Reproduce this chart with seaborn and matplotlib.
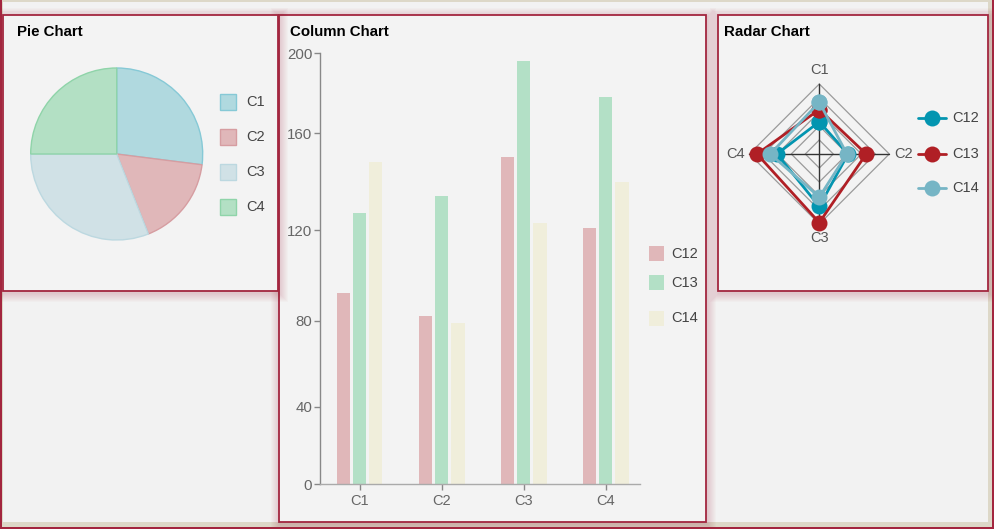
import numpy as np
import pandas as pd
import matplotlib
matplotlib.use("Agg")
import matplotlib.pyplot as plt
import seaborn as sns
from matplotlib.patches import Rectangle
from matplotlib.lines import Line2D

# ---------------- data ----------------
categories = ["C1", "C2", "C3", "C4"]
pie_values = [27, 17, 31, 25]
series_names = ["C12", "C13", "C14"]
c12_values = [92, 82, 150, 121]
c13_values = [127, 134, 196, 178]
c14_values = [148, 79, 123, 140]
y_ticks = [0, 40, 80, 120, 160, 200]

# ---------------- style ----------------
pie_fill = ["#b0d9df", "#e0b7b9", "#d0e1e6", "#b3e0c4"]
pie_edge = ["#86c9d6", "#d69da1", "#bcd8e0", "#8fd4a9"]
bar_colors = ["#e0b7b9", "#b3e0c6", "#f0eedb"]
radar_colors = ["#0395b0", "#b01f25", "#76b5c5"]
frame_red = "#a3263f"
tick_gray = "#666666"
label_gray = "#444444"

W, H = 994, 529
sns.set_theme(style="white")
plt.rcParams["font.family"] = ["Liberation Sans", "DejaVu Sans"]

fig = plt.figure(figsize=(W / 100, H / 100), dpi=100, facecolor="#f2f2f2")


def box(x0, y0, x1, y1):
    return [x0 / W, 1 - y1 / H, (x1 - x0) / W, (y1 - y0) / H]


def rect(x0, y0, x1, y1, **kw):
    r = Rectangle((x0 / W, 1 - y1 / H), (x1 - x0) / W, (y1 - y0) / H,
                  transform=fig.transFigure, **kw)
    fig.add_artist(r)
    return r


def ftext(x, y, s, **kw):
    return fig.text(x / W, 1 - y / H, s, **kw)


# outer frame
rect(0, 0, W, H, facecolor=frame_red, edgecolor="none", zorder=-20)
rect(1.5, 0, 992, 527, facecolor="#ddd8c8", edgecolor="none", zorder=-19)
rect(2.5, 2, 988, 521.5, facecolor="#f2f2f2", edgecolor="none", zorder=-18)


def panel(x0, y0, x1, y1, z):
    for i in range(9, 0, -1):
        rect(x0 - i + 1, y0 - i + 2, x1 + i + 1, y1 + i + 2,
             facecolor=frame_red, alpha=0.022, edgecolor="none", zorder=z)
    rect(x0, y0, x1, y1, facecolor="#f3f3f3", edgecolor=frame_red,
         linewidth=1.3, zorder=z + 0.5)


panel(279.3, 14.5, 705.5, 521.5, -10)
panel(3.3, 14.5, 278.3, 290.5, -8)
panel(718.3, 14.5, 987.7, 290.5, -8)

title_kw = dict(fontsize=10.8, fontweight="bold", color="black", va="baseline")
ftext(17, 36.5, "Pie Chart", **title_kw)
ftext(290, 36.5, "Column Chart", **title_kw)
ftext(724, 36.5, "Radar Chart", **title_kw)

# ---------------- Pie ----------------
axp = fig.add_axes(box(30.7, 68, 202.7, 240))
axp.set_facecolor("none")
wedges, _ = axp.pie(pie_values, colors=pie_fill, startangle=90, counterclock=False,
                    wedgeprops=dict(linewidth=1.0))
for w, ec in zip(wedges, pie_edge):
    w.set_edgecolor(ec)
    w.set_clip_on(False)
axp.set_xlim(-1, 1)
axp.set_ylim(-1, 1)
axp.set_aspect("equal")

for i, (cat, fc, ec) in enumerate(zip(categories, pie_fill, pie_edge)):
    yc = 101.7 + 35 * i
    rect(220, yc - 8, 236, yc + 8, facecolor=fc, edgecolor=ec, linewidth=1, zorder=3)
    ftext(246, yc, cat, fontsize=10.5, color=label_gray, va="center", ha="left")

# ---------------- Column ----------------
df = pd.DataFrame({
    "category": categories * 3,
    "series": [s for s in series_names for _ in categories],
    "value": c12_values + c13_values + c14_values,
})

axc = fig.add_axes(box(320, 53.3, 640, 484.3))
axc.set_facecolor("none")
sns.barplot(data=df, x="category", y="value", hue="series", palette=bar_colors,
            width=0.6, gap=0.2, errorbar=None, legend=False, saturation=1,
            linewidth=0, ax=axc)

# axis tick layout of the reference (non-uniform spacing between labelled ticks)
tick_px = [0, 77.6, 163.6, 254.3, 351, 431]
v_ext = [-200] + y_ticks + [400]
p_ext = [-431] + tick_px + [862]
axc.set_yscale("function", functions=(lambda v: np.interp(v, v_ext, p_ext),
                                      lambda p: np.interp(p, p_ext, v_ext)))
axc.set_ylim(0, 200)
axc.set_yticks(y_ticks)
axc.set_yticklabels([str(t) for t in y_ticks])
axc.minorticks_off()
axc.set_xlim(-0.482, 3.42)
axc.set_xlabel("")
axc.set_ylabel("")
for s in ["top", "right"]:
    axc.spines[s].set_visible(False)
axc.spines["left"].set_color("#888888")
axc.spines["left"].set_linewidth(1)
axc.spines["bottom"].set_color("#aaaaaa")
axc.spines["bottom"].set_linewidth(1)
axc.tick_params(axis="y", left=True, length=4, width=1, color="#888888",
                labelcolor=tick_gray, labelsize=10.8, pad=1.5)
axc.tick_params(axis="x", bottom=True, length=4, width=1, color="#888888",
                labelcolor=tick_gray, labelsize=10.5, pad=3)

leg_y = [253.8, 282.8, 318]
for name, col, yc in zip(series_names, bar_colors, leg_y):
    rect(649, yc - 7.5, 664, yc + 7.5, facecolor=col, edgecolor="none", zorder=3)
    ftext(671, yc, name, fontsize=10.5, color=label_gray, va="center", ha="left")

# ---------------- Radar ----------------
n = len(categories)
thetas = [2 * np.pi * i / n for i in range(n)]
rows = []
for name, vals in zip(series_names, [c12_values, c13_values, c14_values]):
    for th, v in zip(thetas + [thetas[0] + 2 * np.pi], vals + [vals[0]]):
        rows.append({"series": name, "theta": th, "value": v})
rdf = pd.DataFrame(rows)

axr = fig.add_axes(box(749.3, 84, 889.3, 224), projection="polar")
axr.set_facecolor("none")
axr.set_theta_zero_location("N")
axr.set_theta_direction(-1)

th_closed = thetas + [thetas[0]]
for lev in y_ticks[1:]:
    axr.plot(th_closed, [lev] * (n + 1), color="#9a9a9a", lw=0.9, zorder=1)
for th in thetas:
    axr.plot([th, th], [0, y_ticks[-1]], color="#333333", lw=1, zorder=1.5)

sns.lineplot(data=rdf, x="theta", y="value", hue="series", palette=radar_colors,
             sort=False, estimator=None, marker="o", markersize=11.5,
             markeredgewidth=0, linewidth=2, legend=False, ax=axr, zorder=3)
for ln in axr.lines:
    ln.set_clip_on(False)

axr.set_ylim(0, y_ticks[-1])
axr.grid(False)
axr.spines["polar"].set_visible(False)
axr.set_xticks([])
axr.set_yticks([])
axr.set_xlabel("")
axr.set_ylabel("")
for th, cat in zip(thetas, categories):
    axr.text(th, 240, cat, ha="center", va="center", color="#555555",
             fontsize=10.5, clip_on=False)

rl_y = [118.3, 154, 188.3]
for name, col, yc in zip(series_names, radar_colors, rl_y):
    fig.add_artist(Line2D([918 / W, 946 / W], [1 - yc / H] * 2, transform=fig.transFigure,
                          color=col, lw=2, zorder=3))
    fig.add_artist(Line2D([932 / W], [1 - yc / H], transform=fig.transFigure,
                          color=col, marker="o", markersize=11.5, markeredgewidth=0,
                          lw=0, zorder=4))
    ftext(952, yc, name, fontsize=10.5, color=label_gray, va="center", ha="left")

fig.savefig("out.png", dpi=100, facecolor=fig.get_facecolor())
